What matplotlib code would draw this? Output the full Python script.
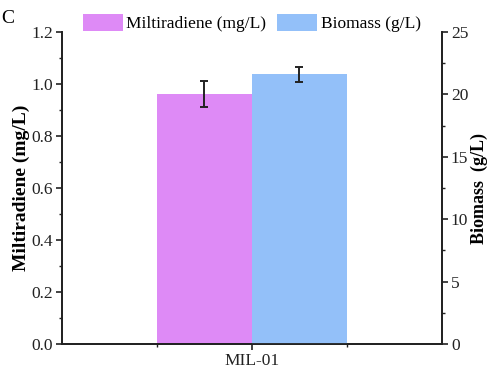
import matplotlib
matplotlib.use("Agg")
import matplotlib.pyplot as plt
from matplotlib.ticker import MultipleLocator, FixedLocator

categories = ["MIL-01"]
miltiradiene = [0.96]
miltiradiene_err = [0.05]
biomass = [21.6]
biomass_err = [0.6]

plt.rcParams["font.family"] = ["Liberation Serif", "DejaVu Serif"]

fig = plt.figure(figsize=(4.91, 3.68), dpi=100)
ax = fig.add_axes([0.126, 0.065, 0.774, 0.848])
ax2 = ax.twinx()

width = 0.5
b1 = ax.bar(-width / 2, miltiradiene, width, color="#DE8AF6",
            yerr=miltiradiene_err, capsize=3,
            error_kw=dict(ecolor="#222222", elinewidth=1.4, capthick=1.4),
            label="Miltiradiene (mg/L)")
b2 = ax2.bar(width / 2, biomass, width, color="#93C0F9",
             yerr=biomass_err, capsize=3,
             error_kw=dict(ecolor="#222222", elinewidth=1.4, capthick=1.4),
             label="Biomass (g/L)")

ax.set_xlim(-1, 1)
ax.set_ylim(0, 1.2)
ax2.set_ylim(0, 25)

ax.set_xticks([0])
ax.set_xticklabels(categories)
ax.xaxis.set_minor_locator(FixedLocator([-0.5, 0.5]))
ax.yaxis.set_major_locator(MultipleLocator(0.2))
ax.yaxis.set_minor_locator(MultipleLocator(0.1))
ax2.yaxis.set_major_locator(MultipleLocator(5))
ax2.yaxis.set_minor_locator(MultipleLocator(2.5))
ax.set_yticklabels([f"{v:.1f}" for v in ax.get_yticks()])

for a in (ax, ax2):
    a.spines["top"].set_visible(False)
    for s in a.spines.values():
        s.set_linewidth(1.3)
        s.set_color("#222222")
    a.tick_params(which="major", length=4, width=1.2, labelsize=12.5,
                  colors="#222222", pad=2.5)
    a.tick_params(which="minor", length=2.5, width=1.0, colors="#222222")

ax.set_ylabel("Miltiradiene (mg/L)", fontsize=14, fontweight="bold", labelpad=0.5)
ax2.set_ylabel("Biomass  (g/L)", fontsize=13, fontweight="bold", labelpad=2)

fig.legend([b1, b2], ["Miltiradiene (mg/L)", "Biomass (g/L)"], loc="center",
           bbox_to_anchor=(0.513, 0.9375), ncol=2, frameon=False, fontsize=12.5,
           handlelength=2.3, handleheight=1.15, columnspacing=0.63,
           handletextpad=0.2, borderpad=0.2)

fig.text(0.003, 0.95, "C", fontsize=14, ha="left", va="center")

fig.savefig("out.png", dpi=100)
